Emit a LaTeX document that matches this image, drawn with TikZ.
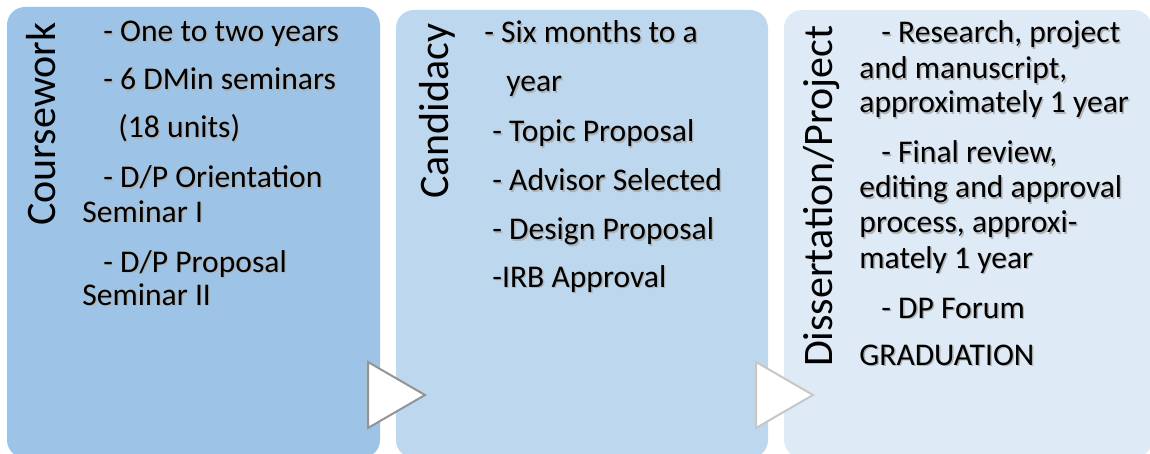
\documentclass[tikz,border=0pt]{standalone}
\usepackage{fontspec}
\setmainfont{Carlito}
\definecolor{phaseA}{HTML}{9DC3E6}
\definecolor{phaseB}{HTML}{BDD7EE}
\definecolor{phaseC}{HTML}{DEEBF7}
% soft grey drop shadow under the body text
\newcommand\shd[1]{\rlap{\kern0.7pt\raisebox{-0.7pt}{\textcolor{black!30}{#1}}}#1}
\begin{document}
\begin{tikzpicture}[x=0.5pt,y=-0.5pt,
  phase/.style={rounded corners=9pt},
  title/.style={rotate=90,anchor=base east,inner sep=0pt,font=\fontsize{21}{25}\selectfont},
  item/.style={anchor=base west,inner sep=0pt,font=\fontsize{15.8}{19}\selectfont},
  chevron/.style={line width=1pt,fill=white,line join=miter}]
\useasboundingbox (0,0) rectangle (1150,454);
% the three phase panels
\fill[phaseA,phase] (7,7) rectangle (380,458);
\fill[phaseB,phase] (396,10) rectangle (768,458);
\fill[phaseC,phase] (784,10) rectangle (1152,458);
% arrow heads between the panels
\filldraw[chevron,draw=black!42] (368,362) -- (425,395) -- (368,428) -- cycle;
\filldraw[chevron,draw=black!22] (756,362) -- (813,395) -- (756,428) -- cycle;
% panel titles
\node[title] (course) at (55,22) {Coursework};
\node[title] (cand) at (448,23) {Candidacy};
\node[title] (diss) at (832,25) {Dissertation/Project};
% coursework
\node[item] (c1) at (103,42) {\shd{- One to two years}};
\node[item] (c2) at (103,90) {\shd{- 6 DMin seminars}};
\node[item] (c3) at (118,138) {\shd{(18 units)}};
\node[item] (c4) at (103,188) {\shd{- D/P Orientation}};
\node[item] (c5) at (82,222) {\shd{Seminar I}};
\node[item] (c6) at (103,272) {\shd{- D/P Proposal}};
\node[item] (c7) at (82,305) {\shd{Seminar II}};
% candidacy
\node[item] (k1) at (484,43) {\shd{- Six months to a}};
\node[item] (k2) at (506,92) {\shd{year}};
\node[item] (k3) at (492,142) {\shd{- Topic Proposal}};
\node[item] (k4) at (492,191) {\shd{- Advisor Selected}};
\node[item] (k5) at (492,240) {\shd{- Design Proposal}};
\node[item] (k6) at (492,287) {\shd{-IRB Approval}};
% dissertation / project
\node[item] (d1) at (881,43) {\shd{- Research, project}};
\node[item] (d2) at (859,79) {\shd{and manuscript,}};
\node[item] (d3) at (859,113) {\shd{approximately 1 year}};
\node[item] (d4) at (881,163) {\shd{- Final review,}};
\node[item] (d5) at (859,198) {\shd{editing and approval}};
\node[item] (d6) at (859,233) {\shd{process, approxi-}};
\node[item] (d7) at (859,268) {\shd{mately 1 year}};
\node[item] (d8) at (881,318) {\shd{- DP Forum}};
\node[item] (d9) at (859,365) {\shd{GRADUATION}};
\end{tikzpicture}
\end{document}
